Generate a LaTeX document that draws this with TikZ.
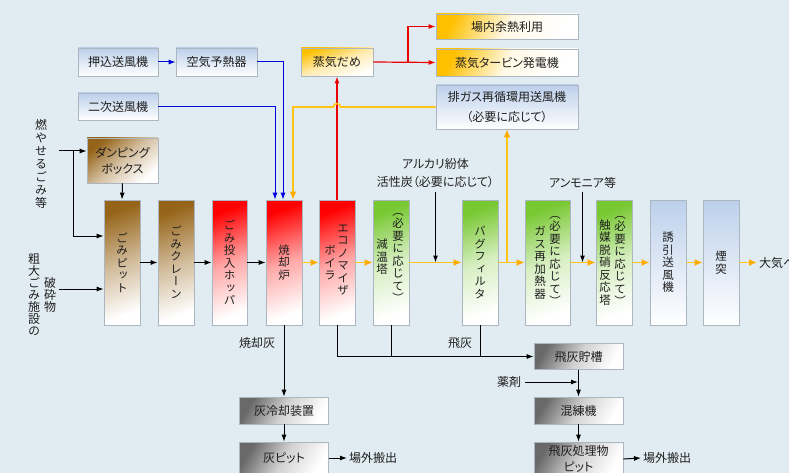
\documentclass[tikz,border=0pt]{standalone}
\usepackage{fontspec}
\usepackage{graphicx}
\setmainfont[RawFeature=+palt]{Noto Sans CJK JP}
\newfontfamily\vjp[RawFeature=+vert]{Noto Sans CJK JP}
\usetikzlibrary{arrows.meta}
\definecolor{bgc}{RGB}{225,236,242}
\definecolor{boxline}{RGB}{172,182,192}
\definecolor{brownc}{RGB}{150,100,25}
\definecolor{redc}{RGB}{255,0,0}
\definecolor{greenc}{RGB}{120,200,50}
\definecolor{bluec}{RGB}{188,208,235}
\definecolor{goldc}{RGB}{255,192,0}
\definecolor{grayc}{RGB}{105,105,105}
\definecolor{ylinec}{RGB}{255,196,20}
\definecolor{yheadc}{RGB}{255,172,0}
\definecolor{blinec}{RGB}{0,0,225}
\definecolor{rlinec}{RGB}{235,0,0}
\definecolor{txt}{RGB}{30,30,30}
\newcommand\myhf{\fontsize{12}{15}\selectfont}
\newcommand\myvf{\vjp\fontsize{11.5}{12.5}\selectfont}
\begin{document}
\begin{tikzpicture}[x=1pt,y=-1pt,
  box/.style={draw=boxline, line width=0.7pt, inner sep=0pt, align=center, text=txt, font=\myhf},
  tall/.style={box, minimum width=36pt, minimum height=125pt, font=\myvf},
  vt/.style={inner sep=0pt, align=center, text=txt, font=\myvf},
  lbl/.style={inner sep=0pt, align=center, text=txt, font=\myhf},
  shbrown/.style={top color=brownc, bottom color=white, middle color=brownc!45!white, shading angle=20},
  shbrownb/.style={top color=brownc, bottom color=white, middle color=brownc!40!white, shading angle=40},
  shred/.style={top color=redc, bottom color=white, middle color=redc!35!white, shading angle=20},
  shgreen/.style={top color=greenc, bottom color=white, middle color=greenc!30!white, shading angle=20},
  shblue/.style={top color=bluec, bottom color=white},
  shgold/.style={top color=goldc, bottom color=white, middle color=goldc!30!white, shading angle=20},
  shgoldw/.style={top color=goldc, bottom color=white, middle color=goldc!10!white, shading angle=65},
  shgray/.style={top color=grayc, bottom color=white, middle color=grayc!30!white, shading angle=60},
  barrow/.style={draw=black, line width=1pt, -{Latex[length=7pt,width=5pt]}},
  bln/.style={draw=black, line width=1pt},
  bluearrow/.style={draw=blinec, line width=1pt, -{Latex[length=7pt,width=5pt]}},
  bluel/.style={draw=blinec, line width=1pt},
  rarrow/.style={draw=rlinec, line width=1.2pt, -{Latex[length=7pt,width=5pt]}},
  rln/.style={draw=rlinec, line width=1.2pt},
  yarrow/.style={draw=ylinec, line width=1.6pt, -{Latex[length=8pt,width=7pt,color=yheadc]}},
  yln/.style={draw=ylinec, line width=1.6pt}
]
\useasboundingbox (0,0) rectangle (789,473);
\fill[fill=bgc] (0,0) rectangle (789,473);
\clip (0,0) rectangle (789,473);

% top boxes
\node[box, shblue, minimum width=80pt, minimum height=28pt] (push) at (118,62) {押込送風機};
\node[box, shblue, minimum width=81pt, minimum height=28pt] (aph) at (216.5,62) {空気予熱器};
\node[box, shblue, minimum width=80pt, minimum height=27pt] (sec) at (118,106.5) {二次送風機};
\node[box, shbrownb, minimum width=71pt, minimum height=45pt, font=\fontsize{12}{16}\selectfont] (dump) at (122.5,160.5) {ダンピング\\ボックス};
\node[box, shgold, minimum width=72pt, minimum height=28pt] (drum) at (337,62) {蒸気だめ};
\node[box, shgoldw, minimum width=142pt, minimum height=25pt] (heat) at (507,26.5) {場内余熱利用};
\node[box, shgoldw, minimum width=142pt, minimum height=27pt] (turb) at (507,62.5) {蒸気タービン発電機};
\node[box, shblue, minimum width=142pt, minimum height=44pt, font=\fontsize{12}{20}\selectfont] (exg) at (507,107) {排ガス再循環用送風機\\（必要に応じて）};

% tall boxes
\node[tall, shbrown] (pit) at (122,262.5) {ご\\み\\ピ\\ッ\\ト};
\node[tall, shbrown] (crane) at (176,262.5) {ご\\み\\ク\\レ\\ー\\ン};
\node[tall, shred, minimum width=35pt] (hopper) at (229.5,262.5) {ご\\み\\投\\入\\ホ\\ッ\\パ};
\node[tall, shred] (ince) at (284,262.5) {焼\\却\\炉};
\node[tall, shred] (eco) at (337,262.5) {};
\node[vt] (ecoR) at (343,260) {エ\\コ\\ノ\\マ\\イ\\ザ};
\node[vt] (ecoL) at (330,263) {ボ\\イ\\ラ};
\node[tall, shgreen] (cool) at (391,262.5) {};
\node[vt] (coolR) at (398,258) {（\\必\\要\\に\\応\\じ\\て\\）};
\node[vt] (coolL) at (382,257) {減\\温\\塔};
\node[tall, shgreen] (bag) at (480,262.5) {バ\\グ\\フ\\ィ\\ル\\タ};
\node[tall, shgreen, minimum width=45pt] (reh) at (547.5,262.5) {};
\node[vt] (rehR) at (555,261) {（\\必\\要\\に\\応\\じ\\て\\）};
\node[vt] (rehL) at (540,263) {ガ\\ス\\再\\加\\熱\\器};
\node[tall, shgreen] (cat) at (614,262.5) {};
\node[vt] (catL) at (605,262.5) {触\\媒\\脱\\硝\\反\\応\\塔};
\node[vt] (catR) at (620,261) {（\\必\\要\\に\\応\\じ\\て\\）};
\node[tall, shblue] (idf) at (668,262.5) {誘\\引\\送\\風\\機};
\node[tall, shblue] (stk) at (721,262.5) {煙\\突};
\node[lbl, anchor=west] (air) at (759,262.5) {大気へ};

% labels
\node[lbl, font=\fontsize{12}{18}\selectfont] (alk) at (435.5,173) {アルカリ紛体\\活性炭（必要に応じて）};
\node[lbl] (amm) at (582.5,183) {アンモニア等};
\node[vt, font=\vjp\fontsize{12}{13}\selectfont] (moy) at (41,164) {燃\\や\\せ\\る\\ご\\み\\等};
\node[vt, font=\vjp\fontsize{12}{12}\selectfont] (sod) at (34,295) {粗\\大\\ご\\み\\施\\設\\の};
\node[vt, font=\vjp\fontsize{12}{12}\selectfont] (has) at (50,294.5) {破\\砕\\物};
\node[lbl] (ashlbl) at (257,343) {焼却灰};
\node[lbl] (flylbl) at (460,343) {飛灰};

% bottom boxes
\node[box, shgray, minimum width=89pt, minimum height=27pt] (ashc) at (284,410.5) {灰冷却装置};
\node[box, shgray, minimum width=89pt, minimum height=32pt] (ashp) at (284,458) {灰ピット};
\node[lbl, anchor=west] (out1) at (349,458) {場外搬出};
\node[box, shgray, minimum width=89pt, minimum height=26pt] (fly) at (578.5,356.5) {飛灰貯槽};
\node[box, shgray, minimum width=89pt, minimum height=27pt] (mix) at (578.5,410.5) {混練機};
\node[box, shgray, minimum width=89pt, minimum height=34pt, font=\fontsize{12}{16}\selectfont] (flyp) at (578.5,459) {飛灰処理物\\ピット};
\node[lbl, anchor=west] (out2) at (643,458) {場外搬出};
\node[lbl] (yaku) at (509,382) {薬剤};

% coordinates
\coordinate (in1) at (59,151);
\coordinate (br) at (73,151);
\coordinate (in2) at (59,289);
\coordinate (rb) at (408,62);
\coordinate (hop) at (eco.north |- exg.west);

% left inputs
\draw[barrow] (in1) -- ([yshift=9.5pt]dump.west);
\draw[barrow] (br) |- ([yshift=26.5pt]pit.west);
\draw[barrow] (in2) -- ([yshift=-26.5pt]pit.west);
\draw[barrow] (dump.south) -- (pit.north);

% main black flow
\draw[barrow] (pit.east) -- (crane.west);
\draw[barrow] (crane.east) -- (hopper.west);
\draw[barrow] (hopper.east) -- (ince.west);

% air lines
\draw[bluearrow] (push.east) -- (aph.west);
\draw[bluearrow] (aph.east) -| ([xshift=-1pt]ince.north);
\draw[bluearrow] (sec.east) -| ([xshift=-9pt]ince.north);

% steam
\draw[rarrow] (eco.north) -- (drum.south);
\draw[rarrow] (drum.east) -- (turb.west);
\draw[rarrow] (rb) |- (heat.west);

% recirculation
\draw[yarrow] (exg.west) -- ([xshift=3.5pt]hop) arc[start angle=0, end angle=-180, radius=3.5] -- ([xshift=9pt]ince.north |- exg.west) -- ([xshift=9pt]ince.north);

% gas flow
\draw[yarrow] (ince.east) -- (eco.west);
\draw[yarrow] (eco.east) -- (cool.west);
\draw[yarrow] (cool.east) -- (bag.west);
\draw[yarrow] (bag.east) -- (reh.west);
\draw[yarrow] (reh.east) -- (cat.west);
\draw[yarrow] (cat.east) -- (idf.west);
\draw[yarrow] (idf.east) -- (stk.west);
\draw[yarrow] (stk.east) -- ([xshift=-2pt]air.west);
\draw[yarrow] (exg.south |- bag.east) -- (exg.south);

% additives
\draw[barrow] ([yshift=-4pt]alk.south) -- (alk.south |- bag.west);
\draw[barrow] ([yshift=-3pt]amm.south) -- (amm.south |- cat.west);

% ash
\draw[barrow] (ince.south) -- (ashc.north);
\draw[barrow] (ashc.south) -- (ashp.north);
\draw[barrow] (ashp.east) -- ([xshift=-2pt]out1.west);
\draw[barrow] (eco.south) |- (fly.west);
\draw[bln] (cool.south) -- (cool.south |- fly.west);
\draw[bln] (bag.south) -- (bag.south |- fly.west);
\draw[barrow] (fly.south) -- (mix.north);
\draw[barrow] ([xshift=4pt]yaku.east) -- ([xshift=-0.5pt]yaku.east -| fly.south);
\draw[barrow] (mix.south) -- (flyp.north);
\draw[barrow] (flyp.east) -- ([xshift=-2pt]out2.west);
\end{tikzpicture}
\end{document}
